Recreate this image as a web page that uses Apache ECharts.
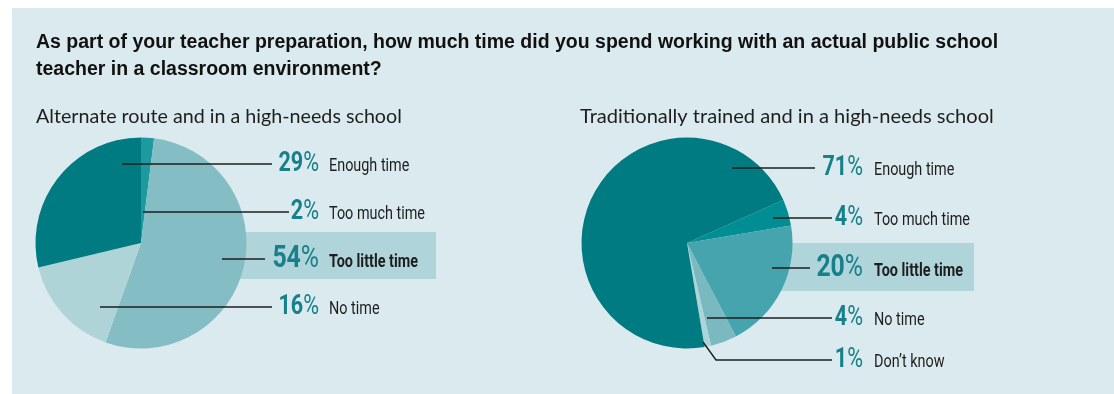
<!DOCTYPE html>
<html>
<head>
<meta charset="utf-8">
<script src="https://cdn.jsdelivr.net/npm/echarts@6/dist/echarts.min.js"></script>
<style>
  html, body { margin: 0; padding: 0; background: #ffffff; }
  #chart { width: 1114px; height: 394px; }
</style>
</head>
<body>
<div id="chart"></div>
<script>
// Survey answers, listed clockwise from each pie's first slice
const questionText = 'As part of your teacher preparation, how much time did you spend working with an actual public school\nteacher in a classroom environment?';
const groupNames = ['Alternate route and in a high-needs school', 'Traditionally trained and in a high-needs school'];

const categoriesAlt = ['Too much time', 'Too little time', 'No time', 'Enough time'];
const valuesAlt = [2, 54, 16, 29];

const categoriesTrad = ['Too much time', 'Too little time', 'No time', 'Don\u2019t know', 'Enough time'];
const valuesTrad = [4, 20, 4, 1, 71];

// Label rows, top to bottom
const labelRowsAlt = ['Enough time', 'Too much time', 'Too little time', 'No time'];
const labelRowsTrad = ['Enough time', 'Too much time', 'Too little time', 'No time', 'Don\u2019t know'];
const emphasized = 'Too little time';

// Styling and layout
const sliceColorsAlt = {
  'Too much time': '#1c9aa0', 'Too little time': '#84bdc3',
  'No time': '#aed4d8', 'Enough time': '#007b82'
};
const sliceColorsTrad = {
  'Too much time': '#008d93', 'Too little time': '#45a4ad',
  'No time': '#7ab9c0', 'Don\u2019t know': '#acd5da', 'Enough time': '#007b82'
};
const panelColor = '#dbeaee';
const bandColor = '#afd4d9';
const pctColor = '#17808a';
const inkColor = '#1e1e1e';
const narrowFont = 'Roboto, "Liberation Sans", sans-serif';
const narrowScale = 0.8;

// leader points [x, y] per row; the last point is where the figure begins
const leadersAlt = [
  [[122, 164], [272, 164]],
  [[143, 212], [289, 212]],
  [[222, 259], [265, 259]],
  [[100, 307], [272, 307]]
];
const leadersTrad = [
  [[732, 168], [815, 168]],
  [[773, 218], [832, 218]],
  [[772, 268], [810, 268]],
  [[707, 318], [832, 318]],
  [[703, 342], [716, 360], [832, 360]]
];
const pctRightAlt = 319, textLeftAlt = 329;
const pctRightTrad = 863, textLeftTrad = 874;

function pieData(cats, vals, colors) {
  return cats.map((c, i) => ({ name: c, value: vals[i], itemStyle: { color: colors[c] } }));
}

function labelGraphics(rows, cats, vals, leaders, pctRight, textLeft) {
  const out = [];
  rows.forEach((name, i) => {
    const v = vals[cats.indexOf(name)];
    const pts = leaders[i];
    const y = pts[pts.length - 1][1];
    const big = name === emphasized;
    const pctSize = big ? 31 : 27;
    out.push({
      type: 'polyline', z: 20,
      shape: { points: pts },
      style: { stroke: inkColor, lineWidth: 1.4, fill: null }
    });
    out.push({
      type: 'text', z: 20, x: pctRight, y: y, scaleX: narrowScale,
      style: {
        text: '{n|' + v + '}{p|%}',
        align: 'right', verticalAlign: 'middle',
        rich: {
          n: { fontFamily: narrowFont, fontWeight: 'bold', fontSize: pctSize, lineHeight: pctSize, fill: pctColor },
          p: { fontFamily: narrowFont, fontWeight: 'normal', fontSize: pctSize, lineHeight: pctSize, fill: pctColor }
        }
      }
    });
    out.push({
      type: 'text', z: 20, x: textLeft, y: y + (big ? 3 : 2), scaleX: narrowScale,
      style: {
        text: name, align: 'left', verticalAlign: 'middle',
        fontFamily: narrowFont,
        fontWeight: big ? 'bold' : 'normal',
        fontSize: 18, fill: inkColor
      }
    });
  });
  return out;
}

const chart = echarts.init(document.getElementById('chart'), null, { renderer: 'canvas' });

const option = {
  backgroundColor: '#ffffff',
  animation: false,
  title: [
    {
      text: questionText, left: 36, top: 29, padding: 0,
      textStyle: { fontFamily: '"Liberation Sans", Arial, sans-serif', fontWeight: 'bold', fontSize: 19.5, lineHeight: 27, color: '#111111' }
    },
    {
      text: groupNames[0], left: 36, top: 106, padding: 0,
      textStyle: { fontFamily: 'Lato, sans-serif', fontWeight: 'normal', fontSize: 19.7, lineHeight: 22, color: '#1e1e1e' }
    },
    {
      text: groupNames[1], left: 580, top: 106, padding: 0,
      textStyle: { fontFamily: 'Lato, sans-serif', fontWeight: 'normal', fontSize: 20.1, lineHeight: 22, color: '#1e1e1e' }
    }
  ],
  graphic: [
    { type: 'rect', z: -10, shape: { x: 12, y: 8, width: 1102, height: 386 }, style: { fill: panelColor } },
    { type: 'rect', z: -5, shape: { x: 150, y: 232, width: 286, height: 47 }, style: { fill: bandColor } },
    { type: 'rect', z: -5, shape: { x: 700, y: 243, width: 274, height: 48 }, style: { fill: bandColor } }
  ]
    .concat(labelGraphics(labelRowsAlt, categoriesAlt, valuesAlt, leadersAlt, pctRightAlt, textLeftAlt))
    .concat(labelGraphics(labelRowsTrad, categoriesTrad, valuesTrad, leadersTrad, pctRightTrad, textLeftTrad)),
  series: [
    {
      type: 'pie', center: [141, 243], radius: 105.5,
      startAngle: 90, clockwise: true, z: 5,
      label: { show: false }, labelLine: { show: false },
      emphasis: { disabled: true },
      itemStyle: { borderWidth: 0 },
      data: pieData(categoriesAlt, valuesAlt, sliceColorsAlt)
    },
    {
      type: 'pie', center: [687, 243], radius: 105.5,
      startAngle: 24, clockwise: true, z: 5,
      label: { show: false }, labelLine: { show: false },
      emphasis: { disabled: true },
      itemStyle: { borderWidth: 0 },
      data: pieData(categoriesTrad, valuesTrad, sliceColorsTrad)
    }
  ]
};

chart.setOption(option);
</script>
</body>
</html>
